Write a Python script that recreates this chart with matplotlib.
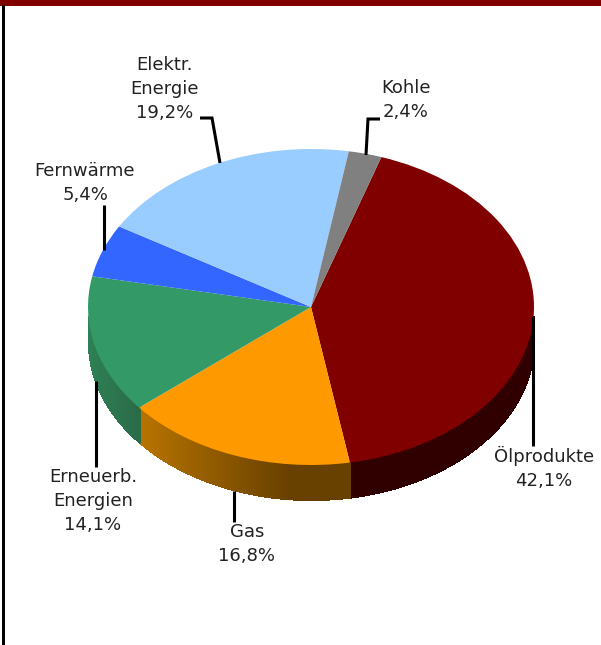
import numpy as np
import matplotlib
matplotlib.use("Agg")
import matplotlib.pyplot as plt
from matplotlib.colors import to_rgb

categories = ["Ölprodukte", "Gas", "Erneuerb.\nEnergien", "Fernwärme", "Elektr.\nEnergie", "Kohle"]
values = [42.1, 16.8, 14.1, 5.4, 19.2, 2.4]
value_labels = ["42,1%", "16,8%", "14,1%", "5,4%", "19,2%", "2,4%"]
top_colors = ["#800000", "#FF9900", "#339966", "#3366FF", "#99CCFF", "#808080"]
side_left = ["#300000", "#B87400", "#2F8055", "#1F3F9F", "#5F7F9F", "#505050"]
side_right = ["#300000", "#684000", "#2A6B48", "#1F3F9F", "#5F7F9F", "#505050"]

W, H = 601, 645
CX, CY, RX, RY, DEPTH = 311, 307, 223, 158, 36
START = 71.6
fig = plt.figure(figsize=(W / 100, H / 100), dpi=100, facecolor="white")
ax = fig.add_axes([0, 0, 1, 1])
ax.set_xlim(0, W)
ax.set_ylim(H, 0)
ax.axis("off")

# frame
ax.fill_between([0, W], 0, 5.5, color="#800000", lw=0, zorder=5)
ax.fill_between([1.8, 4.6], 5, H, color="black", lw=0, zorder=5)

# pie side wall, strip per pixel column, gradient per wedge
edges = START - np.cumsum([0] + values) * 3.6
for i, (a0, a1) in enumerate(zip(edges[:-1], edges[1:])):
    lo, hi = max(a1, -180), min(a0, 0)
    if a0 < -180:
        continue
    if lo >= hi:
        continue
    x0, x1 = CX + RX * np.cos(np.radians(lo)), CX + RX * np.cos(np.radians(hi))
    xmin, xmax = min(x0, x1), max(x0, x1)
    xs = np.arange(np.floor(xmin), np.ceil(xmax) + 1)
    cl, cr = np.array(to_rgb(side_left[i])), np.array(to_rgb(side_right[i]))
    span = max(min(xmax - xmin, 150 if categories[i] == "Gas" else 1e9), 1)
    for xa, xb in zip(xs[:-1], xs[1:]):
        t = np.clip((xa - xmin) / span, 0, 1)
        xc = np.clip((xa + xb) / 2, CX - RX, CX + RX)
        yc = CY + RY * np.sqrt(max(1 - ((xc - CX) / RX) ** 2, 0))
        ax.fill_between([xa, xb + 0.5], yc - 2, yc + DEPTH, color=cl + (cr - cl) * t, lw=0, zorder=1)

# pie top
pie_ax = fig.add_axes([(CX - RX) / W, 1 - (CY + RY) / H, 2 * RX / W, 2 * RY / H])
pie_ax.pie(values, colors=top_colors, startangle=START, counterclock=False, radius=1,
           wedgeprops=dict(lw=0))
pie_ax.set_aspect("auto")
pie_ax.set_xlim(-1, 1)
pie_ax.set_ylim(-1, 1)
pie_ax.axis("off")
pie_ax.patch.set_alpha(0)

# leader lines
leaders = [
    ([533, 533], [317, 446]),
    ([234, 234], [491, 522]),
    ([96, 96], [381, 467]),
    ([104, 104], [205, 250]),
    ([200, 212, 220], [118, 118, 163]),
    ([366, 368, 380], [155, 119, 119]),
]
ax2 = fig.add_axes([0, 0, 1, 1])
ax2.set_xlim(0, W)
ax2.set_ylim(H, 0)
ax2.axis("off")
ax2.patch.set_alpha(0)
for xs, ys in leaders:
    ax2.plot(xs, ys, color="black", lw=2.2, solid_joinstyle="miter", solid_capstyle="butt")

label_pos = [(544, 468), (247, 544), (93, 501), (85, 183), (165, 89), (406, 100)]
for c, v, (x, y) in zip(categories, value_labels, label_pos):
    ax2.text(x, y, f"{c}\n{v}", ha="center", va="center", fontsize=13, color="#222222",
             family="DejaVu Sans", linespacing=1.42)

fig.savefig("out.png", dpi=100)
